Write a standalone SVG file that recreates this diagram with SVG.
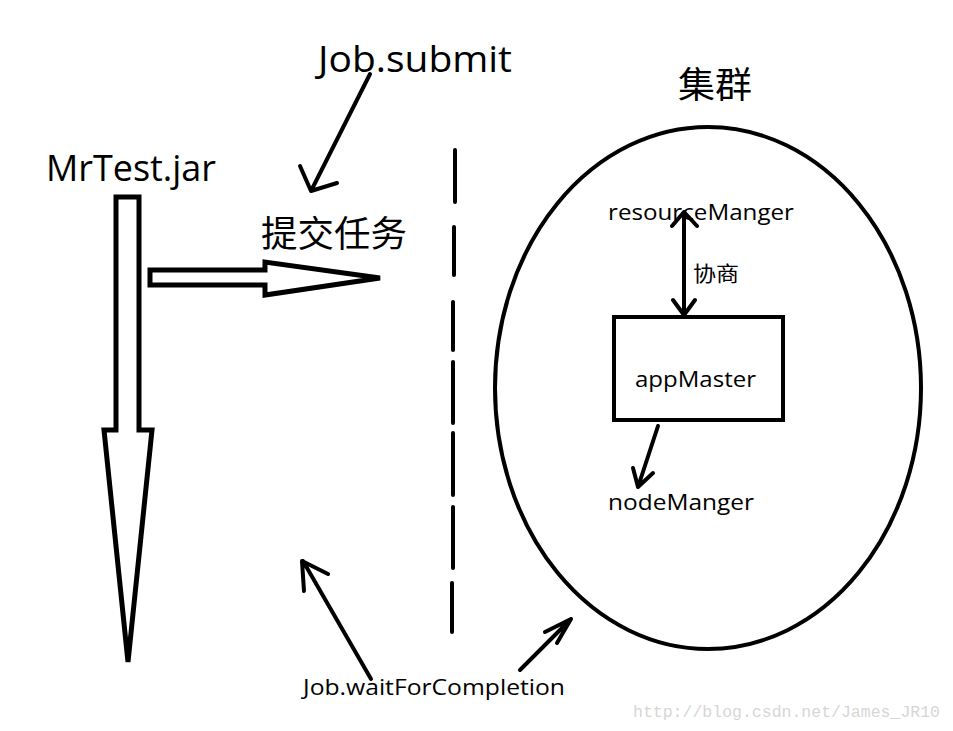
<svg xmlns="http://www.w3.org/2000/svg" width="953" height="731" viewBox="0 0 953 731">
<style>
.t{font-family:"Open Sans","Noto Sans CJK SC",sans-serif;fill:#000}
.c{font-family:"Noto Sans CJK SC",sans-serif;fill:#000}
.ln{fill:none;stroke:#000;stroke-width:4;stroke-linecap:round;stroke-linejoin:round}
.sh{fill:#fff;stroke:#000;stroke-width:5;stroke-linejoin:miter}
</style>
<rect width="953" height="731" fill="#fff"/>
<g id="mrtest">
<text class="t" x="46" y="181" font-size="37" textLength="170" lengthAdjust="spacingAndGlyphs">MrTest.jar</text>
<polygon class="sh" points="116,197 139,197 139,430 152,430 128,662 104,430 116,430"/>
</g>
<g id="submit-label">
<text class="t" x="318" y="72" font-size="37" textLength="194" lengthAdjust="spacingAndGlyphs">Job.submit</text>
</g>
<g id="task">
<text class="c" x="261" y="247" font-size="36" textLength="146" lengthAdjust="spacingAndGlyphs">提交任务</text>
<polygon class="sh" points="150,270 265,270 265,262 380,278 265,295 265,285 150,285"/>
</g>
<g id="cluster">
<text class="c" x="678" y="98" font-size="36" textLength="74" lengthAdjust="spacingAndGlyphs">集群</text>
<ellipse cx="708" cy="388" rx="213" ry="261" fill="none" stroke="#000" stroke-width="4"/>
</g>
<g id="resourceManger">
<text class="t" x="608" y="220" font-size="22" textLength="186" lengthAdjust="spacingAndGlyphs">resourceManger</text>
</g>
<g id="appMaster">
<rect x="614" y="317" width="169" height="103" fill="none" stroke="#000" stroke-width="4"/>
<text class="t" x="635" y="387" font-size="22" textLength="121" lengthAdjust="spacingAndGlyphs">appMaster</text>
</g>
<g id="nodeManger">
<text class="t" x="608" y="510" font-size="22" textLength="146" lengthAdjust="spacingAndGlyphs">nodeManger</text>
</g>
<g id="wait-label">
<text class="t" x="303" y="695" font-size="22" textLength="262" lengthAdjust="spacingAndGlyphs">Job.waitForCompletion</text>
</g>
<g id="connectors">
<path class="ln" d="M370,74 L311,191 M300,166 L311,191 L337,183"/>
<path class="ln" d="M684,212 L684,315 M672,226 L684,212 L697,226 M673,300 L684,315 L695,300"/>
<text class="c" x="693" y="281" font-size="21" textLength="46" lengthAdjust="spacingAndGlyphs">协商</text>
<path class="ln" d="M658,426 L638,487 M633,468 L638,487 L653,473"/>
<path class="ln" d="M371,679 L303,561 M304,591 L302,561 L328,574"/>
<path class="ln" d="M520,670 L571,619 M545,632 L571,619 L557,643"/>
<path class="ln" d="M455,150 L455,202 M454,227 L454,275 M453,302 L453,350 M453,362 L453,423 M453,433 L453,495 M453,507 L453,568 M452,583 L452,632"/>
</g>
<text x="633" y="717" font-family="Liberation Mono,monospace" font-size="16.5" fill="#d6d6d6" textLength="307" lengthAdjust="spacingAndGlyphs">http://blog.csdn.net/James_JR10</text>
</svg>
